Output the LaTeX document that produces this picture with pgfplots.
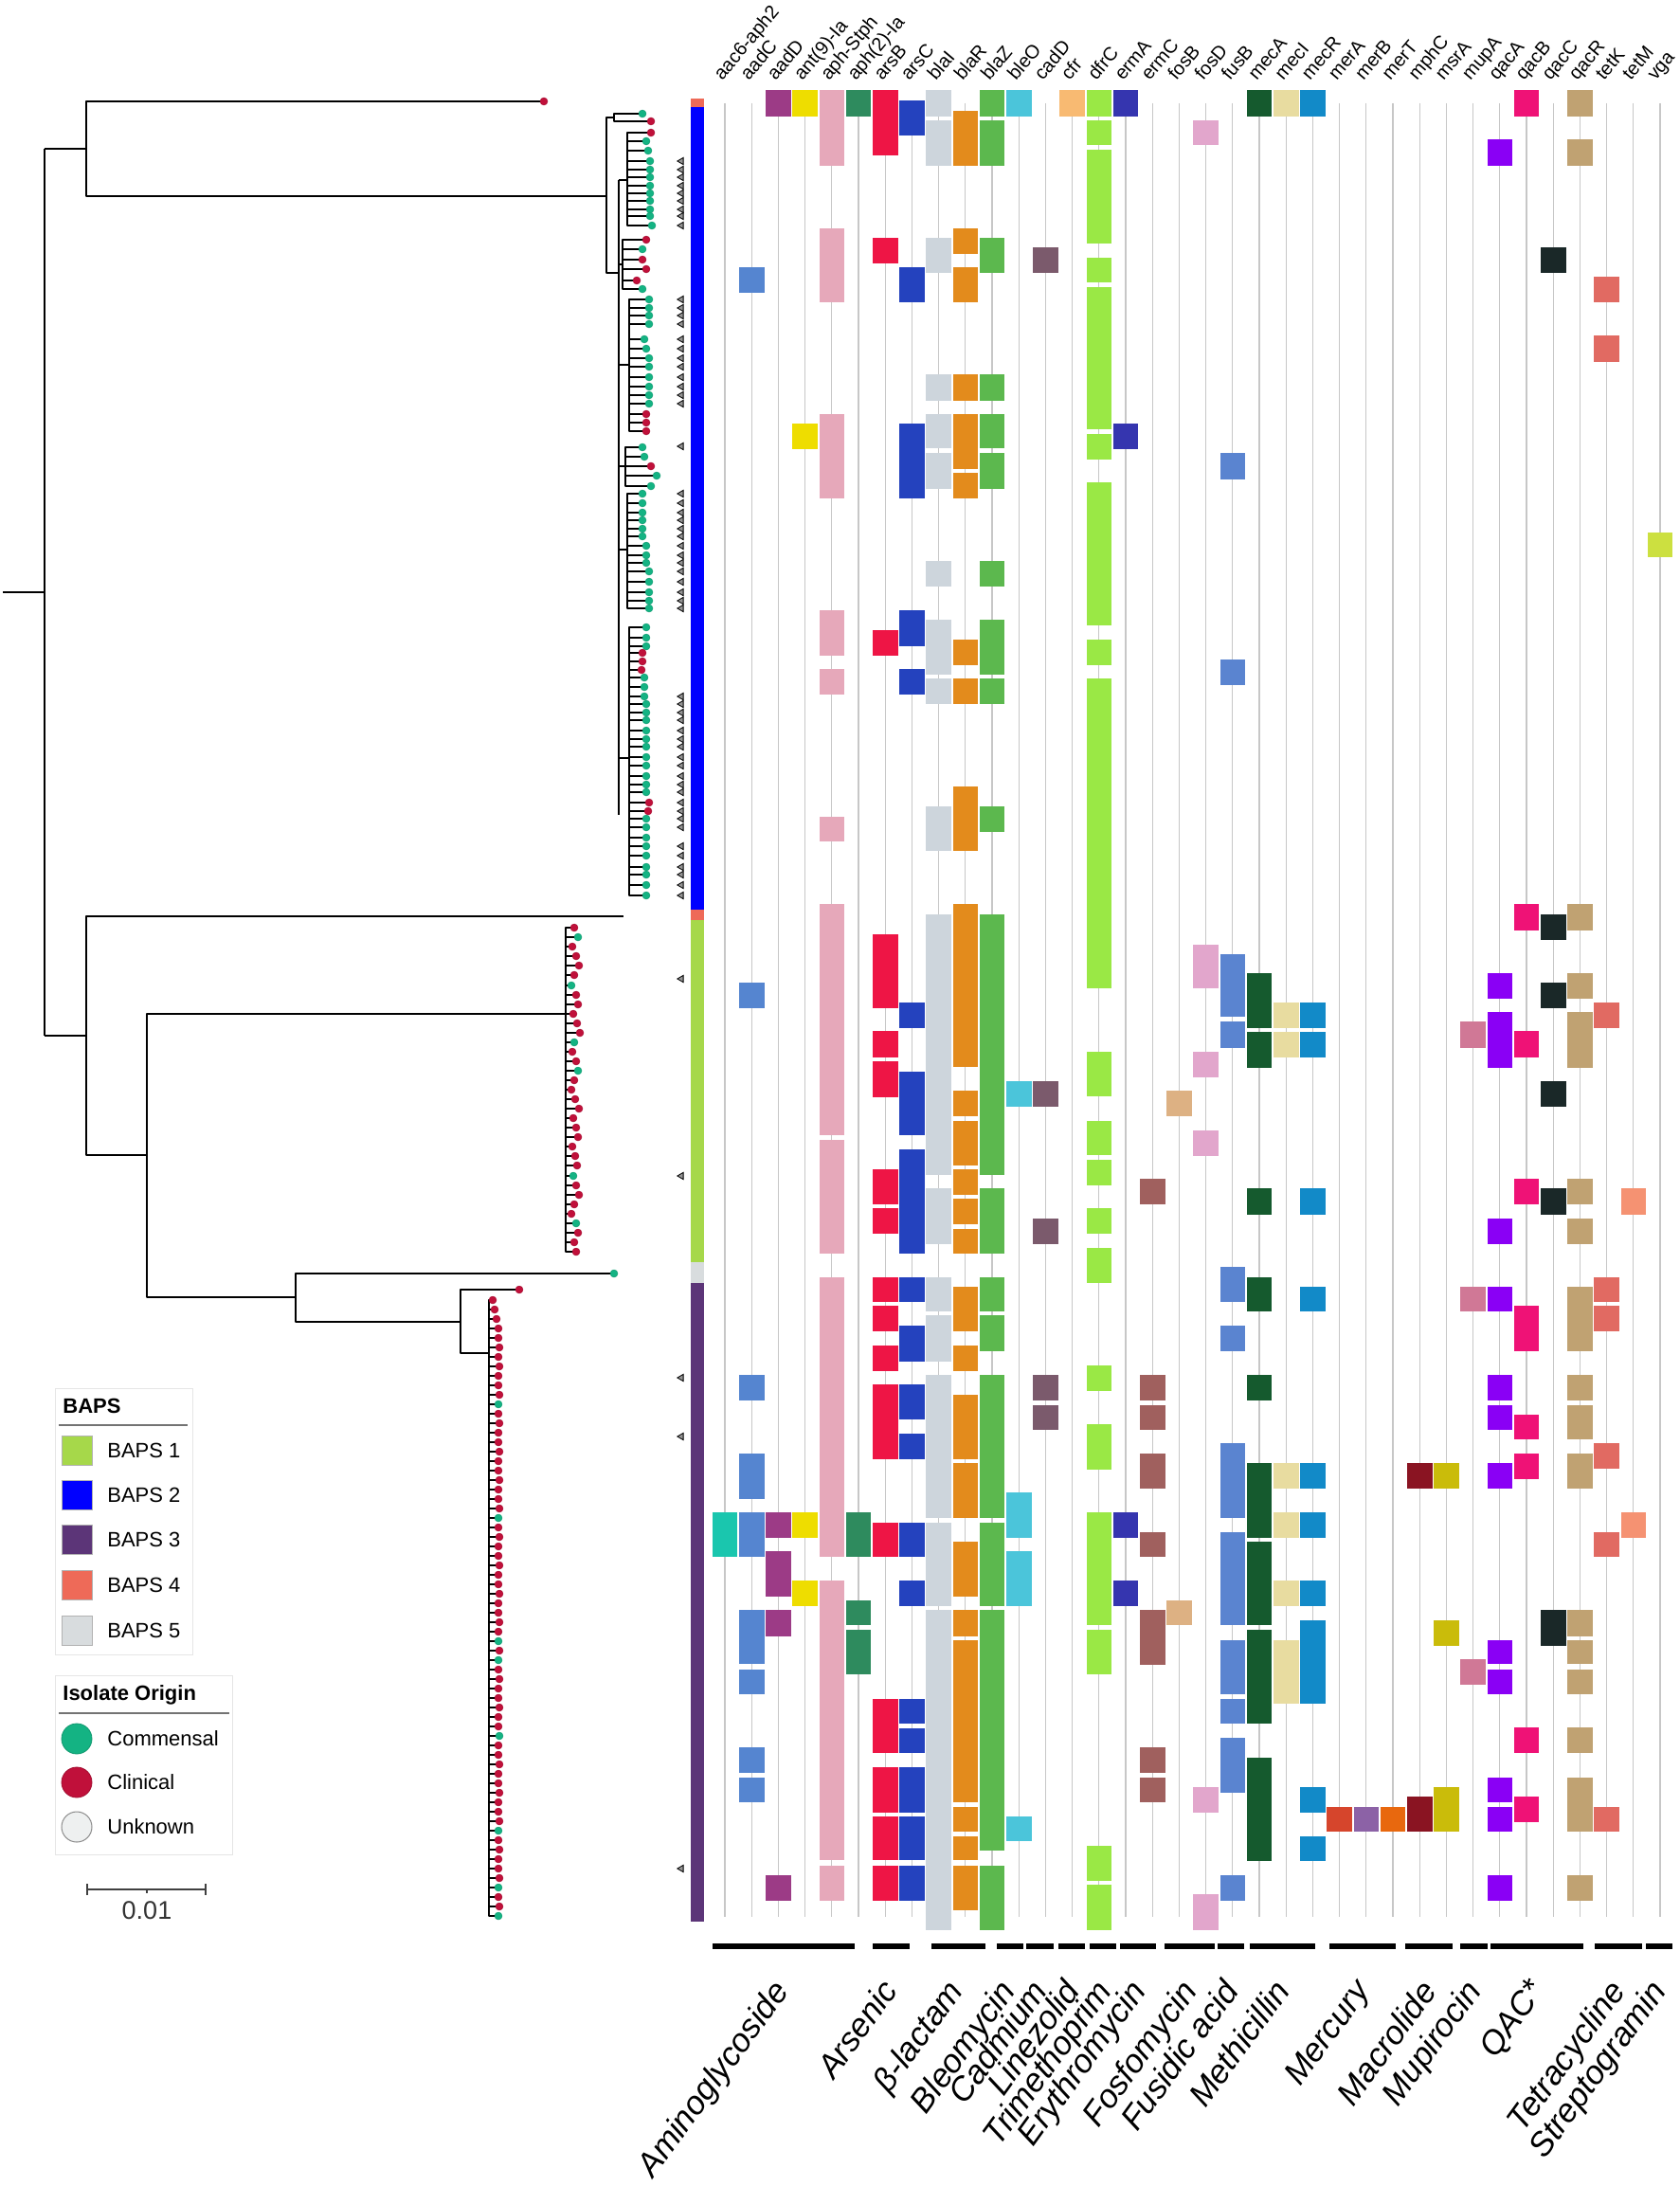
\documentclass[border=0pt]{standalone}
\usepackage{pgfplots}
\pgfplotsset{compat=1.18}
\usepackage{etoolbox}
\usepackage{fontspec}
\setmainfont{Liberation Sans}
% gene colours
\definecolor{c0}{HTML}{1AC6AE}\definecolor{c1}{HTML}{5585D0}\definecolor{c2}{HTML}{9C3B86}
\definecolor{c3}{HTML}{EEDD00}\definecolor{c4}{HTML}{E6A8BA}\definecolor{c5}{HTML}{2E8B5E}
\definecolor{c6}{HTML}{EE1545}\definecolor{c7}{HTML}{2442BE}\definecolor{c8}{HTML}{CDD5DC}
\definecolor{c9}{HTML}{E38B1C}\definecolor{c10}{HTML}{5CB84E}\definecolor{c11}{HTML}{4BC5DA}
\definecolor{c12}{HTML}{7B5A6C}\definecolor{c13}{HTML}{F8BA72}\definecolor{c14}{HTML}{9AE845}
\definecolor{c15}{HTML}{3535AF}\definecolor{c16}{HTML}{A0605E}\definecolor{c17}{HTML}{DDB183}
\definecolor{c18}{HTML}{E2A6CC}\definecolor{c19}{HTML}{5A84D0}\definecolor{c20}{HTML}{155A2E}
\definecolor{c21}{HTML}{E8DCA0}\definecolor{c22}{HTML}{128AC8}\definecolor{c23}{HTML}{D6452C}
\definecolor{c24}{HTML}{8C62A6}\definecolor{c25}{HTML}{E8680E}\definecolor{c26}{HTML}{8A1422}
\definecolor{c27}{HTML}{CABC0A}\definecolor{c28}{HTML}{D07896}\definecolor{c29}{HTML}{8A00F5}
\definecolor{c30}{HTML}{EF1276}\definecolor{c31}{HTML}{1A2828}\definecolor{c32}{HTML}{C0A272}
\definecolor{c33}{HTML}{E16A62}\definecolor{c34}{HTML}{F59272}\definecolor{c35}{HTML}{CCE040}
% BAPS and origin colours
\definecolor{bapsA}{HTML}{A6D84A}\definecolor{bapsB}{HTML}{0000FF}\definecolor{bapsC}{HTML}{5C3578}
\definecolor{bapsD}{HTML}{EE6A58}\definecolor{bapsE}{HTML}{D8DCDE}
\definecolor{clin}{HTML}{C0103A}\definecolor{comm}{HTML}{14B383}\definecolor{unkn}{HTML}{EEF0F0}

\pgfplotsset{
  treeA/.style={black, line width=1pt, line join=round, forget plot},
  treeB/.style={black, line width=0.75pt, line join=round, forget plot},
  gridl/.style={black!22, line width=0.6pt, forget plot},
  catbar/.style={black, line width=2.6pt, forget plot},
}
\tikzset{
  hlab/.style={rotate=50, anchor=base west, inner sep=0pt, font=\fontsize{10}{12}\selectfont},
  clab/.style={rotate=54, anchor=north east, inner sep=0pt, font=\fontsize{17.5}{20}\selectfont\itshape},
  leg/.style={anchor=west, inner sep=0pt, font=\fontsize{11}{13}\selectfont},
  legt/.style={anchor=west, inner sep=0pt, font=\fontsize{11}{13}\selectfont\bfseries},
}

% heat-map cells: column index, list of y-from/y-to
\newcommand\cells[2]{%
  \pgfmathsetmacro\cxa{765+28.2*#1-13.3}%
  \pgfmathsetmacro\cxb{765+28.2*#1+13.3}%
  \gdef\cellacc{}%
  \foreach \ya/\yb in {#2}{%
    \xappto\cellacc{\noexpand\addplot[fill=c#1,draw=none,forget plot] coordinates {(\cxa,\ya) (\cxb,\ya) (\cxb,\yb) (\cxa,\yb)} -- cycle;}%
  }%
  \cellacc}
% tree tips: node x, list of tipx/tipy/origin
\gdef\allred{}\gdef\allgrn{}
\newcommand\tips[2]{%
  \gdef\pathacc{}%
  \foreach \tx/\ty/\tc in {#2}{%
    \xappto\pathacc{(#1,\ty) (\tx,\ty) (#1,\ty) }%
    \if r\tc \xappto\allred{(\tx,\ty) }\else \xappto\allgrn{(\tx,\ty) }\fi
  }%
  \edef\tmp{\noexpand\addplot[treeB] coordinates {\pathacc};}\tmp}

\begin{document}
\begin{tikzpicture}
\begin{axis}[
  width=886pt, height=1153.5pt, scale only axis,
  xmin=0, xmax=1772, ymin=0, ymax=2307, y dir=reverse,
  hide axis, clip=false]

% ---------- grid lines ----------
\gdef\gridacc{}
\foreach \k in {0,...,35}{\pgfmathsetmacro\gx{765+28.2*\k}\xappto\gridacc{\noexpand\addplot[gridl] coordinates {(\gx,109) (\gx,2023)};}}
\gridacc

% ---------- heat map ----------
\cells{0}{1596/1643}
\cells{1}{282/309,1037/1064,1451/1478,1534/1582,1596/1643,1699/1756,1762/1788,1844/1871,1876/1902}
\cells{2}{95/123,1596/1623,1637/1685,1699/1727,1979/2006}
\cells{3}{95/123,447/474,1596/1623,1668/1695}
\cells{4}{95/175,241/319,437/526,644/692,706/733,862/888,954/1198,1203/1323,1348/1643,1668/1963,1969/2006}
\cells{5}{95/123,1596/1643,1689/1715,1720/1767}
\cells{6}{95/164,251/278,665/692,986/1064,1088/1116,1120/1158,1234/1271,1275/1302,1348/1374,1378/1405,1420/1447,1461/1540,1607/1643,1793/1850,1865/1913,1917/1963,1969/2006}
\cells{7}{106/143,282/319,447/526,644/682,706/733,1058/1085,1131/1198,1213/1323,1348/1374,1399/1437,1461/1498,1513/1540,1607/1643,1668/1695,1793/1819,1824/1850,1865/1913,1917/1963,1969/2006}
\cells{8}{95/123,127/175,251/288,395/423,437/473,478/516,592/619,654/712,716/743,851/898,965/1240,1254/1313,1348/1384,1388/1437,1451/1602,1607/1695,1699/2037}
\cells{9}{117/175,241/268,282/319,395/423,437/495,499/526,675/702,716/743,830/898,954/1126,1151/1178,1183/1230,1234/1261,1265/1292,1297/1323,1358/1405,1420/1447,1472/1540,1544/1602,1627/1685,1699/1727,1731/1902,1907/1933,1938/1963,1969/2016}
\cells{10}{95/123,127/175,251/288,395/423,437/473,478/516,592/619,654/712,716/743,851/878,965/1240,1254/1323,1348/1384,1388/1426,1451/1602,1607/1695,1699/1953,1969/2037}
\cells{11}{95/123,1141/1168,1575/1623,1637/1695,1917/1943}
\cells{12}{261/288,1141/1168,1286/1313,1451/1478,1483/1509}
\cells{13}{95/123}
\cells{14}{95/123,127/153,158/257,272/298,303/453,458/485,509/660,675/702,716/1043,1110/1157,1183/1219,1224/1251,1275/1302,1317/1354,1441/1468,1503/1551,1596/1715,1720/1767,1948/1985,1989/2037}
\cells{15}{95/123,447/474,1596/1623,1668/1695}
\cells{16}{1244/1271,1451/1478,1483/1509,1534/1571,1617/1643,1699/1757,1844/1871,1876/1902}
\cells{17}{1151/1178,1689/1715}
\cells{18}{127/153,997/1043,1110/1137,1193/1220,1886/1913,1999/2037}
\cells{19}{478/506,696/723,1007/1073,1078/1106,1337/1374,1399/1426,1523/1602,1617/1715,1731/1788,1793/1819,1834/1892,1979/2006}
\cells{20}{95/123,1027/1085,1089/1127,1254/1282,1348/1384,1451/1478,1544/1623,1627/1715,1720/1819,1855/1964}
\cells{21}{95/123,1058/1085,1089/1116,1544/1571,1596/1623,1668/1695,1731/1798}
\cells{22}{95/123,1058/1085,1089/1116,1254/1282,1358/1384,1544/1571,1596/1623,1668/1695,1710/1798,1886/1913,1938/1964}
\cells{23}{1907/1933}
\cells{24}{1907/1933}
\cells{25}{1907/1933}
\cells{26}{1544/1571,1896/1933}
\cells{27}{1544/1571,1710/1737,1886/1933}
\cells{28}{1078/1106,1358/1384,1751/1778}
\cells{29}{147/175,1027/1054,1068/1127,1286/1313,1358/1384,1451/1478,1483/1509,1544/1571,1731/1756,1762/1788,1876/1902,1907/1933,1979/2006}
\cells{30}{95/123,954/982,1088/1116,1244/1271,1378/1426,1493/1519,1534/1561,1823/1850,1896/1923}
\cells{31}{261/288,965/992,1037/1064,1141/1168,1254/1282,1699/1737}
\cells{32}{95/123,147/175,954/982,1027/1054,1068/1127,1244/1271,1286/1313,1358/1426,1451/1478,1483/1519,1534/1571,1699/1727,1731/1756,1762/1788,1823/1850,1876/1933,1979/2006}
\cells{33}{292/319,354/382,1058/1085,1348/1374,1378/1405,1523/1550,1617/1643,1907/1933}
\cells{34}{1254/1282,1596/1623}
\cells{35}{562/588}

% ---------- BAPS strip ----------
\addplot[fill=bapsD,draw=none,forget plot] coordinates {(729,104) (743,104) (743,113) (729,113)} -- cycle;
\addplot[fill=bapsB,draw=none,forget plot] coordinates {(729,113) (743,113) (743,960) (729,960)} -- cycle;
\addplot[fill=bapsD,draw=none,forget plot] coordinates {(729,960) (743,960) (743,971) (729,971)} -- cycle;
\addplot[fill=bapsA,draw=none,forget plot] coordinates {(729,971) (743,971) (743,1332) (729,1332)} -- cycle;
\addplot[fill=bapsE,draw=none,forget plot] coordinates {(729,1332) (743,1332) (743,1354) (729,1354)} -- cycle;
\addplot[fill=bapsC,draw=none,forget plot] coordinates {(729,1354) (743,1354) (743,2028) (729,2028)} -- cycle;

% ---------- tree backbone ----------
\addplot[treeA] coordinates {(3,625) (47,625)};
\addplot[treeA] coordinates {(47,157) (47,1093)};
\addplot[treeA] coordinates {(47,157) (91,157)};
\addplot[treeA] coordinates {(574,107) (91,107) (91,207) (640,207)};
\addplot[treeA] coordinates {(648,124) (640,124) (640,288) (653,288)};
\addplot[treeA] coordinates {(653,190) (653,860)};
\tips{648}{678/120/g,687/128/r}
\addplot[treeA] coordinates {(653,190) (662,190)};
\tips{662}{687/140/r,682/149/g,684/159/g,686/170/g,686/179/g,686/187/g,686/196/g,686/204/g,686/212/g,686/221/g,686/228/g,688/238/g}
\addplot[treeA] coordinates {(653,279) (657,279)};
\tips{657}{682/253/r,678/263/g,678/274/r,682/284/r,672/296/r,678/305/g}
\addplot[treeA] coordinates {(653,385) (664,385)};
\tips{664}{685/316/g,685/325/g,685/333/g,685/342/g,680/358/g,682/368/g,685/378/g,685/387/g,685/398/g,685/408/g,685/417/g,685/426/g,682/437/r,682/446/r,682/455/r}
\addplot[treeA] coordinates {(653,492) (660,492)};
\tips{660}{678/472/g,680/482/g,687/492/r,693/502/g,687/513/g}
\addplot[treeA] coordinates {(653,580) (662,580)};
\tips{662}{678/521/g,678/531/g,678/541/g,678/549/g,678/558/g,678/566/g,682/576/g,682/586/g,682/594/g,685/603/g,685/614/g,685/625/g,685/634/g,685/642/g}
\addplot[treeA] coordinates {(653,800) (664,800)};
\tips{664}{682/662/g,682/673/g,682/682/g,678/689/r,678/698/r,677/707/r,680/715/g,680/725/g,680/735/g,682/743/g,682/752/g,682/760/g,682/771/g,682/780/g,682/788/g,682/799/g,682/808/g,682/819/g,682/828/g,682/836/g,685/847/r,684/856/r,682/864/g,682/873/g,682/884/g,682/893/g,682/903/g,682/915/g,682/923/g,682/934/g,682/945/g}
% second main clade
\addplot[treeA] coordinates {(47,1093) (91,1093)};
\addplot[treeA] coordinates {(658,967) (91,967) (91,1219) (155,1219)};
\addplot[treeA] coordinates {(597,1070) (155,1070) (155,1369) (312,1369)};
\addplot[treeA] coordinates {(648,1344) (312,1344) (312,1395) (486,1395)};
\addplot[treeA] coordinates {(548,1361) (486,1361) (486,1428) (516,1428)};
\tips{597}{606/979/r,610/989/g,604/999/r,608/1009/r,611/1019/r,606/1029/r,603/1040/g,608/1050/r,610/1060/r,605/1070/r,609/1080/r,612/1090/r,606/1100/g,604/1110/r,608/1120/r,610/1130/g,606/1140/r,603/1150/r,607/1160/r,611/1170/r,605/1180/r,608/1190/r,610/1200/r,604/1210/r,607/1220/r,609/1230/r,605/1241/g,608/1251/r,611/1261/r,606/1271/r,603/1281/r,608/1291/g,610/1301/r,606/1311/r,608/1321/r}
\tips{516}{520/1372/r,522/1382/r,524/1392/r,526/1402/r,526/1412/r,527/1422/r,526/1432/r,527/1442/r,526/1452/r,526/1462/r,527/1472/r,526/1482/g,526/1492/r,527/1502/r,526/1512/r,526/1522/r,527/1532/r,526/1542/r,526/1552/r,527/1562/r,526/1572/r,526/1582/r,527/1592/r,526/1602/g,526/1612/r,527/1622/r,526/1632/r,526/1642/r,527/1652/r,526/1662/r,526/1672/r,527/1682/r,526/1692/r,526/1702/r,527/1712/r,526/1722/r,526/1732/g,527/1742/r,526/1752/g,526/1762/r,527/1772/r,526/1782/r,526/1792/r,527/1802/r,526/1812/r,526/1822/r,527/1832/g,526/1842/r,526/1852/r,527/1862/r,526/1872/r,526/1882/r,527/1892/r,526/1902/r,526/1912/r,527/1922/r,526/1932/g,526/1942/r,527/1952/r,526/1962/r,526/1972/r,527/1982/r,526/1992/g,526/2002/r,527/2012/r,526/2022/g}
\xappto\allred{(574,107) (548,1361) }
\xappto\allgrn{(648,1344) }

% ---------- triangles ----------
\addplot[only marks, mark=triangle*, mark size=2.1pt, mark options={rotate=90, fill=black!42, draw=none}, forget plot] coordinates {
(719,170) (719,179) (719,187) (719,196) (719,204) (719,212) (719,221) (719,228) (719,238)
(719,316) (719,325) (719,333) (719,342) (719,358) (719,368) (719,378) (719,387) (719,398) (719,408) (719,417) (719,426)
(719,471) (719,521) (719,531) (719,541) (719,549) (719,558) (719,566) (719,576) (719,586) (719,594) (719,603) (719,614) (719,625) (719,634) (719,642)
(719,735) (719,743) (719,752) (719,760) (719,771) (719,780) (719,788) (719,799) (719,808) (719,819) (719,828) (719,836) (719,847) (719,856) (719,864) (719,873)
(719,893) (719,903) (719,915) (719,923) (719,934) (719,945) (719,1033) (719,1241) (719,1454) (719,1516) (719,1972)};

% ---------- tip dots ----------
\edef\tmp{\noexpand\addplot[only marks, mark=*, mark size=2pt, mark options={fill=comm,draw=comm!85!black,line width=0.2pt}, forget plot] coordinates {\allgrn};}\tmp
\edef\tmp{\noexpand\addplot[only marks, mark=*, mark size=2pt, mark options={fill=clin,draw=clin!85!black,line width=0.2pt}, forget plot] coordinates {\allred};}\tmp

% ---------- gene labels ----------
\node[hlab] at (axis cs:762,86) {aac6-aph2};
\node[hlab] at (axis cs:790.2,86) {aadC};
\node[hlab] at (axis cs:818.4,86) {aadD};
\node[hlab] at (axis cs:846.6,86) {ant(9)-Ia};
\node[hlab] at (axis cs:874.8,86) {aph-Stph};
\node[hlab] at (axis cs:903,86) {aph(2)-Ia};
\node[hlab] at (axis cs:931.2,86) {arsB};
\node[hlab] at (axis cs:959.4,86) {arsC};
\node[hlab] at (axis cs:987.6,86) {blaI};
\node[hlab] at (axis cs:1015.8,86) {blaR};
\node[hlab] at (axis cs:1044,86) {blaZ};
\node[hlab] at (axis cs:1072.2,86) {bleO};
\node[hlab] at (axis cs:1100.4,86) {cadD};
\node[hlab] at (axis cs:1128.6,86) {cfr};
\node[hlab] at (axis cs:1156.8,86) {dfrC};
\node[hlab] at (axis cs:1185,86) {ermA};
\node[hlab] at (axis cs:1213.2,86) {ermC};
\node[hlab] at (axis cs:1241.4,86) {fosB};
\node[hlab] at (axis cs:1269.6,86) {fosD};
\node[hlab] at (axis cs:1297.8,86) {fusB};
\node[hlab] at (axis cs:1326,86) {mecA};
\node[hlab] at (axis cs:1354.2,86) {mecI};
\node[hlab] at (axis cs:1382.4,86) {mecR};
\node[hlab] at (axis cs:1410.6,86) {merA};
\node[hlab] at (axis cs:1438.8,86) {merB};
\node[hlab] at (axis cs:1467,86) {merT};
\node[hlab] at (axis cs:1495.2,86) {mphC};
\node[hlab] at (axis cs:1523.4,86) {msrA};
\node[hlab] at (axis cs:1551.6,86) {mupA};
\node[hlab] at (axis cs:1579.8,86) {qacA};
\node[hlab] at (axis cs:1608,86) {qacB};
\node[hlab] at (axis cs:1636.2,86) {qacC};
\node[hlab] at (axis cs:1664.4,86) {qacR};
\node[hlab] at (axis cs:1692.6,86) {tetK};
\node[hlab] at (axis cs:1720.8,86) {tetM};
\node[hlab] at (axis cs:1747,86) {vga};

% ---------- category bars and labels ----------
\addplot[catbar] coordinates {(752,2054) (902,2054)};
\addplot[catbar] coordinates {(921,2054) (960,2054)};
\addplot[catbar] coordinates {(983,2054) (1040,2054)};
\addplot[catbar] coordinates {(1052,2054) (1080,2054)};
\addplot[catbar] coordinates {(1083,2054) (1112,2054)};
\addplot[catbar] coordinates {(1117,2054) (1145,2054)};
\addplot[catbar] coordinates {(1150,2054) (1178,2054)};
\addplot[catbar] coordinates {(1182,2054) (1220,2054)};
\addplot[catbar] coordinates {(1229,2054) (1282,2054)};
\addplot[catbar] coordinates {(1285,2054) (1313,2054)};
\addplot[catbar] coordinates {(1319,2054) (1388,2054)};
\addplot[catbar] coordinates {(1403,2054) (1473,2054)};
\addplot[catbar] coordinates {(1483,2054) (1533,2054)};
\addplot[catbar] coordinates {(1541,2054) (1570,2054)};
\addplot[catbar] coordinates {(1573,2054) (1671,2054)};
\addplot[catbar] coordinates {(1683,2054) (1733,2054)};
\addplot[catbar] coordinates {(1737,2054) (1765,2054)};
\node[clab] at (axis cs:813,2086) {Aminoglycoside};
\node[clab] at (axis cs:928,2086) {Arsenic};
\node[clab] at (axis cs:997,2086) {β-lactam};
\node[clab] at (axis cs:1052,2086) {Bleomycin};
\node[clab] at (axis cs:1086,2086) {Cadmium};
\node[clab] at (axis cs:1120,2086) {Linezolid};
\node[clab] at (axis cs:1154,2086) {Trimethoprim};
\node[clab] at (axis cs:1190,2086) {Erythromycin};
\node[clab] at (axis cs:1244,2086) {Fosfomycin};
\node[clab] at (axis cs:1288,2086) {Fusidic acid};
\node[clab] at (axis cs:1342,2086) {Methicillin};
\node[clab] at (axis cs:1427,2086) {Mercury};
\node[clab] at (axis cs:1497,2086) {Macrolide};
\node[clab] at (axis cs:1544,2086) {Mupirocin};
\node[clab] at (axis cs:1611,2086) {QAC*};
\node[clab] at (axis cs:1696,2086) {Tetracycline};
\node[clab] at (axis cs:1739,2086) {Streptogramin};

% ---------- legends ----------
\addplot[fill=white, draw=black!10, line width=0.5pt, forget plot] coordinates {(58,1465) (203,1465) (203,1746) (58,1746)} -- cycle;
\node[legt] at (axis cs:66,1484) {BAPS};
\addplot[black!55, line width=0.6pt, forget plot] coordinates {(62,1504) (198,1504)};
\addplot[fill=bapsA, draw=black!30, line width=0.4pt, forget plot] coordinates {(65,1515) (97,1515) (97,1546) (65,1546)} -- cycle;
\addplot[fill=bapsB, draw=black!30, line width=0.4pt, forget plot] coordinates {(65,1562) (97,1562) (97,1593) (65,1593)} -- cycle;
\addplot[fill=bapsC, draw=black!30, line width=0.4pt, forget plot] coordinates {(65,1609) (97,1609) (97,1640) (65,1640)} -- cycle;
\addplot[fill=bapsD, draw=black!30, line width=0.4pt, forget plot] coordinates {(65,1657) (97,1657) (97,1688) (65,1688)} -- cycle;
\addplot[fill=bapsE, draw=black!30, line width=0.4pt, forget plot] coordinates {(65,1705) (97,1705) (97,1736) (65,1736)} -- cycle;
\node[leg] at (axis cs:113,1531) {BAPS 1};
\node[leg] at (axis cs:113,1578) {BAPS 2};
\node[leg] at (axis cs:113,1625) {BAPS 3};
\node[leg] at (axis cs:113,1673) {BAPS 4};
\node[leg] at (axis cs:113,1721) {BAPS 5};

\addplot[fill=white, draw=black!10, line width=0.5pt, forget plot] coordinates {(58,1768) (245,1768) (245,1957) (58,1957)} -- cycle;
\node[legt] at (axis cs:66,1789) {Isolate Origin};
\addplot[black!55, line width=0.6pt, forget plot] coordinates {(62,1808) (242,1808)};
\addplot[only marks, mark=*, mark size=8pt, mark options={fill=comm, draw=comm!85!black, line width=0.4pt}, forget plot] coordinates {(81,1835)};
\addplot[only marks, mark=*, mark size=8pt, mark options={fill=clin, draw=clin!85!black, line width=0.4pt}, forget plot] coordinates {(81,1881)};
\addplot[only marks, mark=*, mark size=8pt, mark options={fill=unkn, draw=black!45, line width=0.5pt}, forget plot] coordinates {(81,1928)};
\node[leg] at (axis cs:113,1835) {Commensal};
\node[leg] at (axis cs:113,1881) {Clinical};
\node[leg] at (axis cs:113,1928) {Unknown};

% ---------- scale bar ----------
\addplot[black!75, line width=0.8pt, forget plot] coordinates {(92,1994) (217,1994)};
\addplot[black!75, line width=0.8pt, forget plot] coordinates {(92,1988) (92,2000)};
\addplot[black!75, line width=0.8pt, forget plot] coordinates {(217,1988) (217,2000)};
\addplot[black!75, line width=0.6pt, forget plot] coordinates {(155,1994) (155,1998)};
\node[font=\fontsize{13.5}{15}\selectfont, inner sep=0pt, text=black!80] at (axis cs:155,2016) {0.01};

\coordinate (bbA) at (axis cs:0,0);
\coordinate (bbB) at (axis cs:1772,2307);
\end{axis}
\pgfresetboundingbox
\useasboundingbox (bbA) rectangle (bbB);
\end{tikzpicture}
\end{document}
